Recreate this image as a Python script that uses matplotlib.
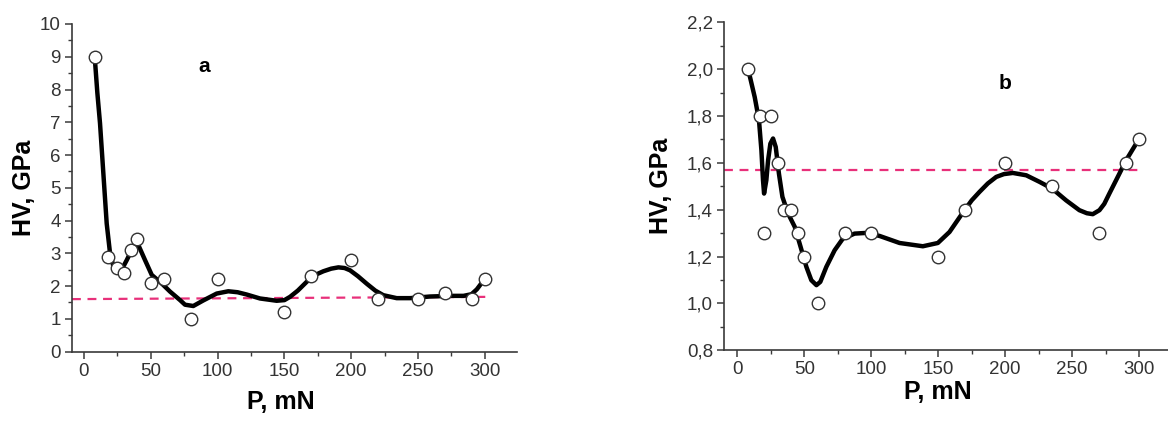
import matplotlib
matplotlib.use("Agg")
import matplotlib.pyplot as plt
from matplotlib.ticker import MultipleLocator, FuncFormatter

plt.rcParams["font.family"] = ["Liberation Sans", "DejaVu Sans"]

# panel a: measured points
P_A = [8, 18, 25, 30, 35, 40, 50, 60, 80, 100, 150, 170, 200, 220, 250, 270, 290, 300]
HV_A = [9.0, 2.9, 2.55, 2.4, 3.1, 3.45, 2.1, 2.2, 1.0, 2.2, 1.2, 2.3, 2.8, 1.6, 1.6, 1.8, 1.6, 2.2]

# panel a: smoothed curve
CURVE_A_X = [8.2, 10, 12, 14.5, 17, 19.5, 21.9, 25, 28.2, 32, 36.9, 40.7, 45.7, 50.7, 58.1,
             64.4, 71.9, 75.6, 81.8, 89.3, 99.3, 108, 115, 121.8, 131.7, 144.2, 150, 154.2,
             160, 166.7, 172, 179.1, 185, 190.4, 195, 199.1, 205, 211.6, 218, 224, 234, 244,
             259, 274, 284, 290, 294, 297.7, 300]
CURVE_A_Y = [8.9, 7.9, 6.97, 5.44, 3.91, 3.0, 2.62, 2.52, 2.5, 2.79, 3.2, 3.25, 2.79, 2.34, 2.08,
             1.83, 1.57, 1.43, 1.39, 1.56, 1.77, 1.84, 1.81, 1.74, 1.62, 1.55, 1.57, 1.67,
             1.86, 2.13, 2.32, 2.45, 2.53, 2.57, 2.55, 2.48, 2.3, 2.07, 1.86, 1.72, 1.63, 1.63,
             1.68, 1.70, 1.70, 1.75, 1.9, 2.1, 2.2]

# panel a: dashed reference line (ends)
REF_A_X = [-9, 305]
REF_A_Y = [1.60, 1.67]

# panel b: measured points
P_B = [8, 17, 20, 25, 30, 35, 40, 45, 50, 60, 80, 100, 150, 170, 200, 235, 270, 290, 300]
HV_B = [2.0, 1.8, 1.3, 1.8, 1.6, 1.4, 1.4, 1.3, 1.2, 1.0, 1.3, 1.3, 1.2, 1.4, 1.6, 1.5, 1.3, 1.6, 1.7]

# panel b: smoothed curve
CURVE_B_X = [8, 12.9, 16.1, 17.9, 19.1, 19.9, 21.6, 22.9, 24.6, 26.6, 28.6, 31, 33.6, 37.8,
             42.8, 47.2, 51.5, 55.2, 59, 61.9, 66.4, 72.6, 78.8, 87.5, 96.3, 106.2, 121.1,
             138.5, 149.7, 158.4, 169.6, 175, 180.8, 187, 193.3, 199, 205.7, 215.7, 225.6,
             235.1, 245.5, 255.4, 261, 265.4, 270.4, 274, 277.8, 285.3, 290.3, 299.7]
CURVE_B_Y = [2.0, 1.881, 1.782, 1.654, 1.526, 1.469, 1.526, 1.611, 1.682, 1.704, 1.668, 1.554,
             1.455, 1.384, 1.327, 1.241, 1.156, 1.099, 1.078, 1.092, 1.156, 1.227, 1.277,
             1.298, 1.301, 1.288, 1.258, 1.244, 1.258, 1.305, 1.398, 1.44, 1.476, 1.512, 1.54,
             1.552, 1.557, 1.547, 1.519, 1.49, 1.44, 1.398, 1.385, 1.381, 1.398, 1.425, 1.469,
             1.554, 1.611, 1.70]

REF_B_X = [-10, 300]
REF_B_Y = [1.568, 1.568]

AXIS_COLOR = "#3a3a3a"
DASH_COLOR = "#e8307a"


def style_axes(ax):
    for side in ("top", "right"):
        ax.spines[side].set_visible(False)
    for side in ("left", "bottom"):
        ax.spines[side].set_color(AXIS_COLOR)
        ax.spines[side].set_linewidth(1.2)
    ax.tick_params(which="major", direction="out", length=5, width=1.1,
                   color=AXIS_COLOR, labelsize=13.5, labelcolor="#333333", pad=3)
    ax.tick_params(which="minor", direction="out", length=3, width=1.0, color=AXIS_COLOR)
    ax.xaxis.set_major_locator(MultipleLocator(50))
    ax.xaxis.set_minor_locator(MultipleLocator(25))


def draw_panel(ax, px, hv, cx, cy, rx, ry):
    ax.plot(rx, ry, color=DASH_COLOR, lw=1.6, dashes=(4, 3), zorder=1)
    ax.plot(cx, cy, color="black", lw=3.2, solid_capstyle="round",
            solid_joinstyle="round", zorder=2)
    ax.plot(px, hv, "o", ms=9, mfc="white", mec="#333333", mew=1.0, zorder=3,
            clip_on=False)


fig = plt.figure(figsize=(11.68, 4.21), dpi=100)

ax1 = fig.add_axes([0.0616, 0.165, 0.381, 0.778])
draw_panel(ax1, P_A, HV_A, CURVE_A_X, CURVE_A_Y, REF_A_X, REF_A_Y)
ax1.set_xlim(-9, 324)
ax1.set_ylim(0, 10)
style_axes(ax1)
ax1.yaxis.set_major_locator(MultipleLocator(1))
ax1.yaxis.set_minor_locator(MultipleLocator(0.5))
ax1.set_xlabel("P, mN", fontsize=18, fontweight="bold")
ax1.xaxis.set_label_coords(0.47, -0.118)
ax1.set_ylabel("HV, GPa", fontsize=18, fontweight="bold", labelpad=3)
ax1.text(90, 8.7, "a", fontsize=15, fontweight="bold", ha="center", va="center")

ax2 = fig.add_axes([0.6199, 0.168, 0.384, 0.779])
draw_panel(ax2, P_B, HV_B, CURVE_B_X, CURVE_B_Y, REF_B_X, REF_B_Y)
ax2.set_xlim(-10, 325)
ax2.set_ylim(0.8, 2.2)
style_axes(ax2)
ax2.yaxis.set_major_locator(MultipleLocator(0.2))
ax2.yaxis.set_minor_locator(MultipleLocator(0.1))
ax2.yaxis.set_major_formatter(FuncFormatter(lambda v, pos: f"{v:.1f}".replace(".", ",")))
ax2.set_xlabel("P, mN", fontsize=18, fontweight="bold")
ax2.xaxis.set_label_coords((150 + 10) / 335, -0.092)
ax2.set_ylabel("HV, GPa", fontsize=18, fontweight="bold", labelpad=10)
ax2.text(200, 1.94, "b", fontsize=15, fontweight="bold", ha="center", va="center")

fig.savefig("out.png", dpi=100)
